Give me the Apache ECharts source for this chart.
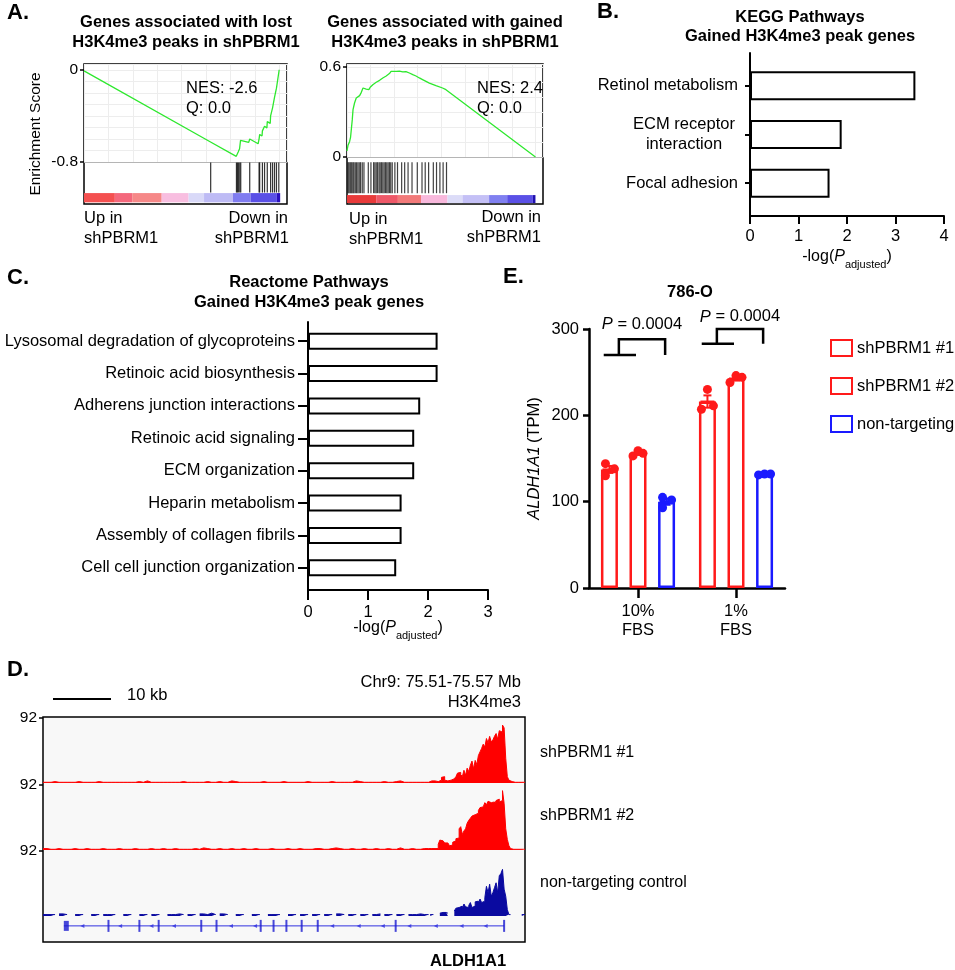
<!DOCTYPE html>
<html><head><meta charset="utf-8">
<script src="https://cdn.jsdelivr.net/npm/echarts@6/dist/echarts.min.js"></script>
<style>html,body{margin:0;padding:0;background:#fff}#c{width:955px;height:970px}</style>
</head><body><div id="c"></div>
<script>
const FONT = "'Liberation Sans', Arial, Helvetica, sans-serif";

// ---------- Panel A: GSEA running enrichment scores ----------
const gseaLostRank = [0, 64.6, 64.9, 78.0, 78.5, 79.0, 79.7, 80.2, 80.5, 84.4, 84.9, 89.2, 89.7, 90.0, 91.2, 91.4, 92.4, 92.5, 93.7, 93.9, 95.4, 95.6, 96.4, 96.6, 97.5, 97.6, 98.5, 98.6, 99.5, 100];
const gseaLostES = [-0.01, -0.624, -0.613, -0.751, -0.737, -0.714, -0.685, -0.613, -0.599, -0.630, -0.601, -0.642, -0.599, -0.561, -0.575, -0.530, -0.545, -0.490, -0.505, -0.450, -0.465, -0.400, -0.415, -0.330, -0.345, -0.240, -0.255, -0.160, -0.175, 0];
const gseaLostHits = [64.9, 78.1, 78.6, 79.1, 79.8, 80.3, 84.9, 89.7, 90.0, 91.4, 92.5, 93.9, 95.6, 96.6, 97.6, 98.6, 99.8];
const gseaGainedRank = [0, 0.5, 1.4, 1.9, 2.8, 3.2, 4.0, 4.9, 5.8, 6.7, 7.6, 8.5, 9.3, 10.2, 10.7, 11.6, 12.3, 13.0, 13.7, 15.5, 17.3, 19.0, 20.8, 22.5, 23.4, 23.9, 26.1, 27.8, 29.6, 31.3, 33.1, 34.9, 36.6, 38.4, 40.1, 43.7, 47.2, 50.7, 52.5, 100];
const gseaGainedES = [0.04, 0.076, 0.104, 0.133, 0.249, 0.316, 0.36, 0.393, 0.387, 0.409, 0.431, 0.46, 0.471, 0.453, 0.462, 0.449, 0.465, 0.476, 0.482, 0.498, 0.511, 0.527, 0.540, 0.556, 0.571, 0.578, 0.571, 0.573, 0.567, 0.569, 0.560, 0.549, 0.540, 0.527, 0.516, 0.493, 0.476, 0.460, 0.449, 0];
const gseaGainedHits = [0.5, 1.0, 1.6, 2.1, 2.6, 3.2, 3.7, 4.4, 5.1, 5.8, 6.5, 7.2, 8.1, 9.0, 11.3, 12.7, 14.1, 14.8, 15.5, 16.2, 17.0, 17.6, 18.3, 19.0, 19.7, 20.4, 21.1, 21.8, 22.5, 23.2, 24.0, 25.4, 26.8, 29.0, 30.6, 32.4, 34.5, 37.3, 39.8, 41.5, 43.3, 45.8, 47.5, 49.3, 51.0, 52.8];
const rankBarLostEdges = [0, 15.8, 24.7, 39.8, 53.6, 61.5, 76.3, 85.3, 98.8, 100.5];
const rankBarLostColors = ['#f45050', '#f4687c', '#f68888', '#f8bee0', '#d9d9f8', '#bebbf5', '#807cf0', '#5a50e6', '#2a10c0'];
const rankBarGainedEdges = [0, 15.5, 27.0, 39.3, 53.3, 61.3, 75.4, 85.0, 98.6, 100];
const rankBarGainedColors = ['#e83a3a', '#ee5868', '#f27a7a', '#f8b8dc', '#dcdcf8', '#c4c0f6', '#8080f0', '#5a50e6', '#2010b0'];
const nesLost = '-2.6', qLost = '0.0', nesGained = '2.4', qGained = '0.0';

// ---------- Panel B: KEGG ----------
const keggTerms = ['Retinol metabolism', 'ECM receptor\ninteraction', 'Focal adhesion'];
const keggScores = [3.41, 1.89, 1.64];

// ---------- Panel C: Reactome ----------
const reactomeTerms = ['Lysosomal degradation of glycoproteins', 'Retinoic acid biosynthesis', 'Adherens junction interactions', 'Retinoic acid signaling', 'ECM organization', 'Heparin metabolism', 'Assembly of collagen fibrils', 'Cell cell junction organization'];
const reactomeScores = [2.16, 2.16, 1.87, 1.77, 1.77, 1.56, 1.56, 1.47];

// ---------- Panel E: ALDH1A1 TPM ----------
const fbsConditions = ['10%\nFBS', '1%\nFBS'];
const groupNames = ['shPBRM1 #1', 'shPBRM1 #2', 'non-targeting'];
const sh1Reps = [[144, 130, 138], [230, 207, 211]];
const sh2Reps = [[153, 159, 156], [238, 246, 244]];
const ntReps = [[105, 93, 102], [131, 132, 132]];
const pLabels = ['0.0004', '0.0004'];
const bracketLow = [270, 283];
const bracketHigh = [288, 300];
const pTextValue = [305, 314];

// ---------- Panel D: H3K4me3 tracks (value out of 92) ----------
const trackMax = 92;
const bgStartKb = 0, bgStepKb = 0.5, peakStartKb = 48, peakStepKb = 0.2;
const sh1Bg = [1,1,2,1,1,1,1,1,2,1, 1,1,1,2,1,1,1,1,1,1, 1,1,1,2,1,3,1,1,1,1, 1,1,1,1,2,1,1,1,1,1, 2,1,1,2,1,1,3,2,1,1, 1,1,1,1,2,1,1,1,1,2, 1,1,1,1,1,2,1,1,1,1, 1,2,1,1,1,1,1,3,2,1, 1,1,1,1,2,1,1,2,3,1, 1,1,1,1,1,1];
const sh1Peak = [2,3,2,3,2,2,2,4,8,9, 4,3,5,4,5,6,7,9,14,15, 12,9,18,11,21,16,25,31,20,32, 26,39,44,49,55,51,63,57,66,58, 61,66,70,62,74,72,82,78,35,9, 4,2,1,1,1,1,1,1,1,1, 1];
const sh2Bg = [2,1,1,2,1,1,1,2,1,1, 2,1,1,1,2,1,1,1,2,1, 1,1,2,1,1,1,2,1,1,2, 1,1,2,1,1,1,1,2,1,3, 2,1,1,2,1,1,2,1,1,2, 1,1,2,1,1,1,2,1,1,1, 2,1,1,2,1,1,1,2,2,1, 1,2,3,2,1,1,2,1,1,2, 1,1,2,1,1,2,1,1,3,1, 1,2,1,1,2,2];
const sh2Peak = [2,2,1,2,2,2,8,14,13,12, 10,10,8,6,7,11,13,16,17,30, 33,22,27,30,38,42,45,48,50,51, 52,56,60,61,62,67,64,69,67,66, 68,64,70,72,68,70,84,66,30,15, 6,2,1,1,1,1,1,1,1,1, 1];
const ntBg = [2,2,2,null,3,2,null,null,2,2, null,null,2,2,null,2,2,2,null,null, 2,2,null,null,2,2,null,2,2,null, null,2,2,3,2,null,2,2,null,3, 2,4,2,null,3,2,null,null,2,2, null,null,2,2,null,null,2,2,2,null, null,2,2,null,2,2,null,2,2,null, 2,2,null,3,2,null,2,2,null,2, 2,null,2,3,null,2,2,null,2,2, null,2,2,3,2,2];
const ntPeak = [null,2,2,null,null,null,null,4,5,4, 5,4,null,null,null,null,7,11,12,10, 14,9,17,13,12,15,19,12,14,20, 21,17,24,19,21,26,42,33,45,28, 33,40,47,33,57,60,66,38,28,9, 2,null,null,null,null,null,null,null,2,2, null];
const geneStartKb = 2.6, geneEndKb = 57.4;
const exonKb = [8.15, 12.0, 14.4, 19.7, 21.6, 27.1, 28.7, 30.3, 32.2, 34.2, 43.9, 57.4];
const strandKb = [4.9, 9.6, 13.5, 16.3, 23.4, 26.4, 36.0, 39.3, 42.3, 45.6, 48.9, 52.1, 55.1];

// ---------- helpers ----------
const zip = (a, b) => a.map((v, i) => [v, b[i]]);
function trackData(bg, peak) {
  const out = [];
  bg.forEach((v, i) => out.push([bgStartKb + i * bgStepKb, v == null ? '-' : v]));
  peak.forEach((v, i) => out.push([+(peakStartKb + i * peakStepKb).toFixed(2), v == null ? '-' : v]));
  return out;
}
const mean = a => a.reduce((s, v) => s + v, 0) / a.length;
const sem = a => { const m = mean(a); return Math.sqrt(a.reduce((s, v) => s + (v - m) * (v - m), 0) / (a.length - 1)) / Math.sqrt(a.length); };

const RED = '#ff1a1a', BLUE = '#1a1aff', GREEN = '#2ee82e';
const BLACK_AXIS = { color: '#000', width: 2 };
const hiddenAxis = (gi, min, max) => ({ type: 'value', gridIndex: gi, min, max, show: false });
const baseGrid = g => Object.assign({ containLabel: false, outerBoundsMode: 'none' }, g);
const TITLE_SIZE = 16.5, LABEL_SIZE = 16.5;

function txt(x, y, text, o) {
  o = o || {};
  return { type: 'text', x, y, rotation: o.rot || 0, silent: true, z: 50,
    style: { text, fontSize: o.size || 16, fontWeight: o.bold ? 'bold' : 'normal', fontStyle: o.italic ? 'italic' : 'normal',
      fill: '#000', fontFamily: FONT, align: o.align || 'left', verticalAlign: 'middle', lineHeight: o.lh, rich: o.rich } };
}
const subRich = {
  n: { fontSize: 16, fontFamily: FONT, lineHeight: 26, verticalAlign: 'middle' },
  i: { fontSize: 16, fontFamily: FONT, fontStyle: 'italic', lineHeight: 26, verticalAlign: 'middle' },
  s: { fontSize: 11, fontFamily: FONT, lineHeight: 14, verticalAlign: 'bottom' }
};

// ---------- Panel E geometry ----------
const barWidthE = 17, barGapPct = 68;
const barStep = barWidthE * (1 + barGapPct / 100);
const dotJitter = [
  [[-4, -4, 5], [0, -6, 6]],
  [[-5, 0, 5], [-6, 0, 6]],
  [[-4, -4, 5], [-6, 0, 6]]
];
const repsByGroup = [sh1Reps, sh2Reps, ntReps];
const colorsE = [RED, RED, BLUE];

const eBarSeries = repsByGroup.map((reps, c) => ({
  type: 'bar', name: groupNames[c], xAxisIndex: 8, yAxisIndex: 10, barWidth: barWidthE, barGap: barGapPct + '%',
  data: reps.map(r => +mean(r).toFixed(2)), z: 2,
  itemStyle: { color: '#ffffff', borderColor: colorsE[c], borderWidth: 2.5 }
}));
const eDotSeries = repsByGroup.map((reps, c) => ({
  type: 'scatter', name: groupNames[c] + ' pts', xAxisIndex: 8, yAxisIndex: 10, symbolSize: 9, z: 5,
  itemStyle: { color: colorsE[c], opacity: 1 },
  data: reps.flatMap((r, g) => r.map((v, k) => ({ value: [g, v], symbolOffset: [(c - 1) * barStep + dotJitter[c][g][k], 0] })))
}));
const errData = [];
repsByGroup.forEach((reps, c) => reps.forEach((r, g) => errData.push([g, mean(r), sem(r), c])));
const eErrSeries = {
  type: 'custom', name: 'sem', xAxisIndex: 8, yAxisIndex: 10, z: 4, encode: { x: 0, y: 1 }, data: errData,
  renderItem: (params, api) => {
    const g = api.value(0), m = api.value(1), s = api.value(2), c = api.value(3);
    const p = api.coord([g, m]);
    const x = p[0] + (c - 1) * barStep;
    const yT = api.coord([g, m + s])[1], yB = api.coord([g, m - s])[1];
    const st = { stroke: colorsE[c], lineWidth: 2 };
    return { type: 'group', children: [
      { type: 'line', shape: { x1: x - 7, y1: p[1], x2: x + 7, y2: p[1] }, style: st },
      { type: 'line', shape: { x1: x, y1: yT, x2: x, y2: yB }, style: st },
      { type: 'line', shape: { x1: x - 4, y1: yT, x2: x + 4, y2: yT }, style: st },
      { type: 'line', shape: { x1: x - 4, y1: yB, x2: x + 4, y2: yB }, style: st }
    ] };
  }
};
const bracketSeries = {
  type: 'custom', name: 'brackets', xAxisIndex: 8, yAxisIndex: 10, z: 6, encode: { x: 0, y: 1 },
  data: pLabels.map((p, g) => [g, bracketLow[g], bracketHigh[g], pTextValue[g]]),
  renderItem: (params, api) => {
    const g = api.value(0);
    const lo = api.coord([g, api.value(1)]), hi = api.coord([g, api.value(2)])[1], ty = api.coord([g, api.value(3)])[1];
    const cx = lo[0], yl = lo[1];
    const st = { stroke: '#000', lineWidth: 2.5, fill: null };
    return { type: 'group', children: [
      { type: 'line', shape: { x1: cx - 1.2 * barStep, y1: yl, x2: cx - 0.07 * barStep, y2: yl }, style: st },
      { type: 'polyline', shape: { points: [[cx - 0.67 * barStep, yl], [cx - 0.67 * barStep, hi], [cx + 0.95 * barStep, hi], [cx + 0.95 * barStep, yl]] }, style: st },
      { type: 'text', x: cx + 4, y: ty, style: { text: '{i|P}{n| = ' + pLabels[params.dataIndex] + '}', align: 'center', verticalAlign: 'middle',
        rich: { i: { fontSize: 16.5, fontStyle: 'italic', fontFamily: FONT, fill: '#000' }, n: { fontSize: 16.5, fontFamily: FONT, fill: '#000' } } } }
    ] };
  }
};

// ---------- GSEA colour bar ----------
function colorBarArea(edges, colors, y0, y1) {
  return { silent: true, data: colors.map((col, i) => [
    { xAxis: edges[i], yAxis: y0, itemStyle: { color: col, opacity: 1, borderWidth: 0 } },
    { xAxis: edges[i + 1], yAxis: y1 }
  ]) };
}

const trackColors = ['#ff0000', '#ff0000', '#0a0aa0'];
const trackSets = [trackData(sh1Bg, sh1Peak), trackData(sh2Bg, sh2Peak), trackData(ntBg, ntPeak)];
const trackSeries = trackSets.map((d, i) => ({
  type: 'line', name: 'track' + i, xAxisIndex: 9 + i, yAxisIndex: 11 + i, data: d, step: 'end', symbol: 'none',
  connectNulls: false, lineStyle: { color: trackColors[i], width: 1 }, areaStyle: { color: trackColors[i], opacity: 1 }, z: 3
}));

const option = {
  animation: false,
  textStyle: { fontFamily: FONT, color: '#000' },
  grid: [
    baseGrid({ left: 84, top: 64, width: 203, height: 98 }),     // 0 A-left line
    baseGrid({ left: 84, top: 162, width: 203, height: 42 }),    // 1 A-left hits
    baseGrid({ left: 347, top: 64, width: 196, height: 93 }),    // 2 A-right line
    baseGrid({ left: 347, top: 157, width: 196, height: 47 }),   // 3 A-right hits
    baseGrid({ left: 750, top: 53, width: 194, height: 163 }),   // 4 B frame
    baseGrid({ left: 750, top: 61.5, width: 194, height: 146 }), // 5 B bars
    baseGrid({ left: 308, top: 322, width: 180, height: 268 }),  // 6 C frame
    baseGrid({ left: 308, top: 325, width: 180, height: 259 }),  // 7 C bars
    baseGrid({ left: 589, top: 329, width: 196, height: 259 }),  // 8 E
    baseGrid({ left: 43, top: 718, width: 482, height: 65 }),    // 9 D track1
    baseGrid({ left: 43, top: 785, width: 482, height: 65 }),    // 10 D track2
    baseGrid({ left: 43, top: 851, width: 482, height: 65 }),    // 11 D track3
    baseGrid({ left: 43, top: 916, width: 482, height: 26 }),    // 12 D gene
    baseGrid({ left: 43, top: 717, width: 482, height: 225, show: true, backgroundColor: '#f8f8f8', borderColor: '#000', borderWidth: 1.5 }), // 13 D frame
    baseGrid({ left: 84, top: 64, width: 203, height: 140, show: true, backgroundColor: 'transparent', borderColor: '#000', borderWidth: 1.5 }), // 14
    baseGrid({ left: 347, top: 64, width: 196, height: 140, show: true, backgroundColor: 'transparent', borderColor: '#000', borderWidth: 1.5 })  // 15
  ],
  xAxis: [
    { type: 'value', gridIndex: 0, min: 0, max: 104, interval: 12.5, axisLine: { show: true, onZero: false, lineStyle: { color: '#b5b5b5', width: 1 } }, axisTick: { show: false }, axisLabel: { show: false }, splitLine: { show: true, lineStyle: { color: '#ededed', width: 1 } } },
    hiddenAxis(1, 0, 104),
    { type: 'value', gridIndex: 2, min: 0, max: 104, interval: 12.5, axisLine: { show: true, onZero: false, lineStyle: { color: '#b5b5b5', width: 1 } }, axisTick: { show: false }, axisLabel: { show: false }, splitLine: { show: true, lineStyle: { color: '#ededed', width: 1 } } },
    hiddenAxis(3, 0, 104),
    { type: 'value', gridIndex: 4, min: 0, max: 4, interval: 1, axisLine: { show: true, onZero: false, lineStyle: BLACK_AXIS }, axisTick: { show: true, length: 8, lineStyle: BLACK_AXIS }, axisLabel: { fontSize: LABEL_SIZE, color: '#000', margin: 12 }, splitLine: { show: false } },
    hiddenAxis(5, 0, 4),
    { type: 'value', gridIndex: 6, min: 0, max: 3, interval: 1, axisLine: { show: true, onZero: false, lineStyle: BLACK_AXIS }, axisTick: { show: true, length: 10, lineStyle: BLACK_AXIS }, axisLabel: { fontSize: LABEL_SIZE, color: '#000', margin: 14 }, splitLine: { show: false } },
    hiddenAxis(7, 0, 3),
    { type: 'category', gridIndex: 8, data: fbsConditions, axisLine: { show: true, lineStyle: { color: '#000', width: 2.5 } }, axisTick: { show: true, alignWithLabel: true, length: 10, lineStyle: { color: '#000', width: 2.5 } }, axisLabel: { fontSize: LABEL_SIZE, color: '#000', margin: 14, lineHeight: 19 }, splitLine: { show: false } },
    hiddenAxis(9, 0, 60), hiddenAxis(10, 0, 60), hiddenAxis(11, 0, 60), hiddenAxis(12, 0, 60)
  ],
  yAxis: [
    { type: 'value', gridIndex: 0, position: 'left', min: -0.8, max: 0.05, axisLine: { show: false }, axisTick: { show: true, length: 4, customValues: [0, -0.8], lineStyle: { color: '#000', width: 1.5 } }, axisLabel: { customValues: [0, -0.8], fontSize: 15.5, color: '#000', margin: 6, formatter: v => (v === 0 ? '0' : String(v)) }, splitLine: { show: false } },
    { type: 'value', gridIndex: 0, position: 'right', min: -0.8, max: 0.05, interval: 0.1, axisLine: { show: false }, axisTick: { show: false }, axisLabel: { show: false }, splitLine: { show: true, lineStyle: { color: '#ededed', width: 1 } } },
    hiddenAxis(1, 0, 1),
    { type: 'value', gridIndex: 2, position: 'left', min: 0, max: 0.62, axisLine: { show: false }, axisTick: { show: true, length: 4, customValues: [0, 0.6], lineStyle: { color: '#000', width: 1.5 } }, axisLabel: { customValues: [0, 0.6], fontSize: 15.5, color: '#000', margin: 6, formatter: v => (v === 0 ? '0' : String(v)) }, splitLine: { show: false } },
    { type: 'value', gridIndex: 2, position: 'right', min: 0, max: 0.62, interval: 0.1, axisLine: { show: false }, axisTick: { show: false }, axisLabel: { show: false }, splitLine: { show: true, lineStyle: { color: '#ededed', width: 1 } } },
    hiddenAxis(3, 0, 1),
    { type: 'value', gridIndex: 4, min: 0, max: 1, axisLine: { show: true, onZero: false, lineStyle: BLACK_AXIS }, axisTick: { show: false }, axisLabel: { show: false }, splitLine: { show: false } },
    { type: 'category', gridIndex: 5, data: keggTerms, inverse: true, axisLine: { show: false }, axisTick: { show: true, alignWithLabel: true, length: 5, lineStyle: BLACK_AXIS },
      axisLabel: { fontSize: LABEL_SIZE, color: '#000', margin: 12, lineHeight: 20,
        formatter: v => v.indexOf('\n') >= 0 ? v.split('\n').map(s => '{c|' + s + '}').join('\n') : v,
        rich: { c: { fontSize: LABEL_SIZE, fontFamily: FONT, width: 108, align: 'center', lineHeight: 20 } } } },
    { type: 'value', gridIndex: 6, min: 0, max: 1, axisLine: { show: true, onZero: false, lineStyle: BLACK_AXIS }, axisTick: { show: false }, axisLabel: { show: false }, splitLine: { show: false } },
    { type: 'category', gridIndex: 7, data: reactomeTerms, inverse: true, axisLine: { show: false }, axisTick: { show: true, alignWithLabel: true, length: 10, lineStyle: BLACK_AXIS }, axisLabel: { fontSize: LABEL_SIZE, color: '#000', margin: 13 } },
    { type: 'value', gridIndex: 8, min: 0, max: 300, interval: 100, axisLine: { show: true, onZero: false, lineStyle: { color: '#000', width: 2.5 } }, axisTick: { show: true, length: 6, lineStyle: { color: '#000', width: 2.5 } }, axisLabel: { fontSize: LABEL_SIZE, color: '#000', margin: 10 }, splitLine: { show: false },
      name: '{i|ALDH1A1} {n|(TPM)}', nameLocation: 'middle', nameRotate: 90, nameGap: 46,
      nameTextStyle: { rich: { i: { fontSize: LABEL_SIZE, fontStyle: 'italic', fontFamily: FONT, color: '#000' }, n: { fontSize: LABEL_SIZE, fontFamily: FONT, color: '#000' } } } },
    ...[0, 1, 2].map(i => ({ type: 'value', gridIndex: 9 + i, min: 0, max: trackMax, axisLine: { show: false }, axisTick: { show: true, length: 4, customValues: [trackMax], lineStyle: { color: '#000', width: 1.5 } }, axisLabel: { customValues: [trackMax], fontSize: 15.5, color: '#000', margin: 6 }, splitLine: { show: false } })),
    hiddenAxis(12, 0, 1)
  ],
  legend: {
    orient: 'vertical', left: 830, top: 339, padding: 0, itemWidth: 21, itemHeight: 16, itemGap: 20, icon: 'rect',
    textStyle: { fontSize: LABEL_SIZE, color: '#000', fontFamily: FONT },
    data: groupNames.map((n, c) => ({ name: n, icon: 'rect', itemStyle: { color: '#ffffff', borderColor: colorsE[c], borderWidth: 2 } }))
  },
  series: [
    { type: 'line', name: 'lost', xAxisIndex: 0, yAxisIndex: 0, data: zip(gseaLostRank, gseaLostES), symbol: 'none', lineStyle: { color: GREEN, width: 1.3 }, z: 3 },
    { type: 'scatter', name: 'lostHits', xAxisIndex: 1, yAxisIndex: 2, data: gseaLostHits.map(r => [r, 0.63]), symbol: 'rect', symbolSize: [1.2, 30], itemStyle: { color: '#111', opacity: 0.85 },
      markArea: colorBarArea(rankBarLostEdges, rankBarLostColors, 0.04, 0.26) },
    { type: 'line', name: 'gained', xAxisIndex: 2, yAxisIndex: 3, data: zip(gseaGainedRank, gseaGainedES), symbol: 'none', lineStyle: { color: GREEN, width: 1.3 }, z: 3 },
    { type: 'scatter', name: 'gainedHits', xAxisIndex: 3, yAxisIndex: 5, data: gseaGainedHits.map(r => [r, 0.56]), symbol: 'rect', symbolSize: [1.2, 31], itemStyle: { color: '#111', opacity: 0.8 },
      markArea: colorBarArea(rankBarGainedEdges, rankBarGainedColors, 0.02, 0.19) },
    { type: 'bar', name: 'kegg', xAxisIndex: 5, yAxisIndex: 7, data: keggScores, barWidth: 29, itemStyle: { color: '#fff', borderColor: '#000', borderWidth: 2 } },
    { type: 'bar', name: 'reactome', xAxisIndex: 7, yAxisIndex: 9, data: reactomeScores, barWidth: 17, itemStyle: { color: '#fff', borderColor: '#000', borderWidth: 2 } },
    ...eBarSeries, eErrSeries, ...eDotSeries, bracketSeries,
    ...trackSeries,
    { type: 'line', name: 'gene', xAxisIndex: 12, yAxisIndex: 14, data: [[geneStartKb, 0.62], [geneEndKb, 0.62]], symbol: 'none', lineStyle: { color: '#3030e0', width: 1 }, z: 3 },
    { type: 'scatter', name: 'exons', xAxisIndex: 12, yAxisIndex: 14, data: exonKb.map(k => [k, 0.62]), symbol: 'rect', symbolSize: [2, 12], itemStyle: { color: '#1a1ad0' }, z: 4 },
    { type: 'scatter', name: 'utr', xAxisIndex: 12, yAxisIndex: 14, data: [[geneStartKb + 0.3, 0.62]], symbol: 'rect', symbolSize: [5, 10], itemStyle: { color: '#1a1ad0' }, z: 4 },
    { type: 'scatter', name: 'strand', xAxisIndex: 12, yAxisIndex: 14, data: strandKb.map(k => [k, 0.62]), symbol: 'triangle', symbolRotate: 90, symbolSize: [4, 4], itemStyle: { color: '#3030e0' }, z: 4 }
  ],
  graphic: { elements: [
    // panel letters
    txt(7, 13, 'A.', { size: 22, bold: true }),
    txt(597, 12, 'B.', { size: 22, bold: true }),
    txt(7, 278, 'C.', { size: 22, bold: true }),
    txt(7, 670, 'D.', { size: 22, bold: true }),
    txt(503, 277, 'E.', { size: 22, bold: true }),
    // Panel A
    txt(186, 32, 'Genes associated with lost\nH3K4me3 peaks in shPBRM1', { size: TITLE_SIZE, bold: true, align: 'center', lh: 20 }),
    txt(445, 32, 'Genes associated with gained\nH3K4me3 peaks in shPBRM1', { size: TITLE_SIZE, bold: true, align: 'center', lh: 20 }),
    txt(36, 134, 'Enrichment Score', { size: 15.5, align: 'center', rot: Math.PI / 2 }),
    txt(186, 88, 'NES: ' + nesLost, { size: 16.5 }),
    txt(186, 108, 'Q: ' + qLost, { size: 16.5 }),
    txt(477, 88, 'NES: ' + nesGained, { size: 16.5 }),
    txt(477, 108, 'Q: ' + qGained, { size: 16.5 }),
    txt(84, 218, 'Up in', { size: 16.5 }), txt(84, 238, 'shPBRM1', { size: 16.5 }),
    txt(288, 218, 'Down in', { align: 'right', size: 16.5 }), txt(289, 238, 'shPBRM1', { align: 'right', size: 16.5 }),
    txt(349, 219, 'Up in', { size: 16.5 }), txt(349, 239, 'shPBRM1', { size: 16.5 }),
    txt(541, 217, 'Down in', { align: 'right', size: 16.5 }), txt(541, 237, 'shPBRM1', { align: 'right', size: 16.5 }),
    // Panel B
    txt(800, 27, 'KEGG Pathways\nGained H3K4me3 peak genes', { size: TITLE_SIZE, bold: true, align: 'center', lh: 19 }),
    txt(847, 257, '{n|-log(}{i|P}{s|adjusted}{n|)}', { align: 'center', rich: subRich }),
    // Panel C
    txt(309, 292, 'Reactome Pathways\nGained H3K4me3 peak genes', { size: TITLE_SIZE, bold: true, align: 'center', lh: 20 }),
    txt(398, 628, '{n|-log(}{i|P}{s|adjusted}{n|)}', { align: 'center', rich: subRich }),
    // Panel E
    txt(690, 292, '786-O', { size: TITLE_SIZE, bold: true, align: 'center' }),
    // Panel D
    { type: 'line', silent: true, z: 50, shape: { x1: 53, y1: 699, x2: 111, y2: 699 }, style: { stroke: '#000', lineWidth: 2 } },
    txt(127, 695, '10 kb', { size: 16.5 }),
    txt(521, 682, 'Chr9: 75.51-75.57 Mb', { align: 'right', size: 16.5 }),
    txt(521, 702, 'H3K4me3', { align: 'right', size: 16.5 }),
    txt(540, 753, 'shPBRM1 #1', { size: 16 }),
    txt(540, 816, 'shPBRM1 #2', { size: 16 }),
    txt(540, 883, 'non-targeting control', { size: 16 }),
    txt(430, 961, 'ALDH1A1', { bold: true, size: 16.5 })
  ] }
};

const chart = echarts.init(document.getElementById('c'), null, { renderer: 'canvas' });
chart.setOption(option);
</script></body></html>
